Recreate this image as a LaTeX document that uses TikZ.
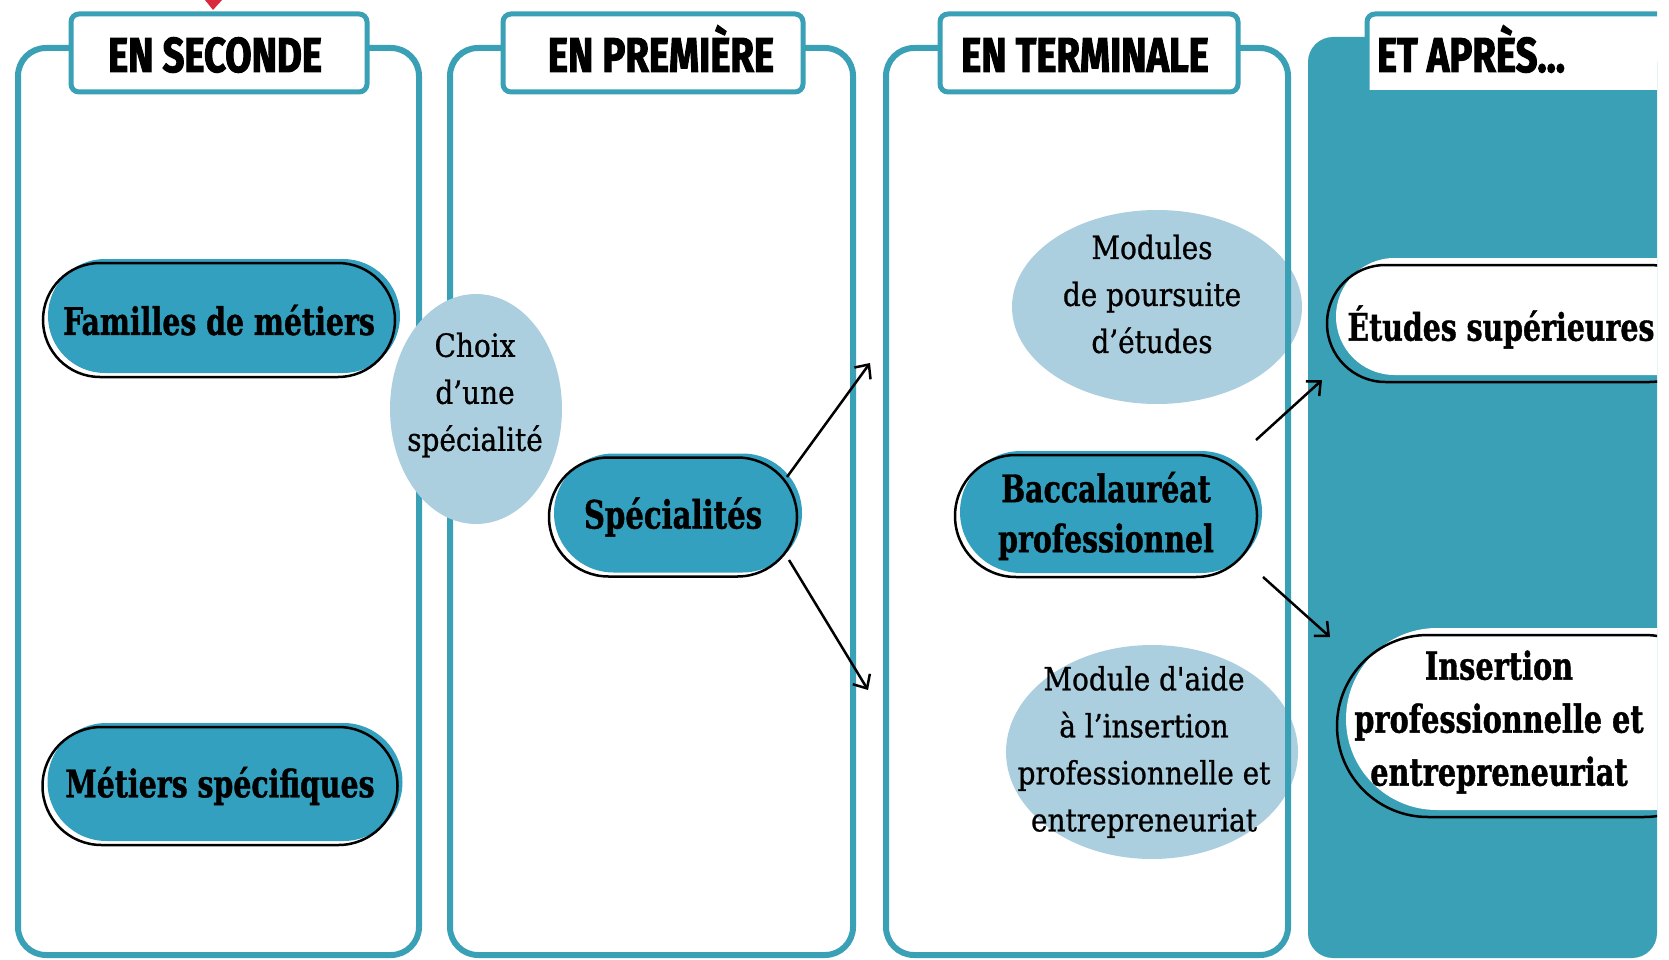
\documentclass[tikz,border=0pt]{standalone}
\usepackage{fontspec}
\usetikzlibrary{shapes.misc,shapes.geometric,arrows.meta,calc}
\newfontfamily\hdrfont[FakeStretch=0.78, BoldFeatures={FakeBold=2}]{Fira Sans}
\newfontfamily\slabB[FakeStretch=0.83, BoldFeatures={FakeBold=1}]{DejaVu Serif Condensed}
\newfontfamily\slabR[FakeStretch=0.97, FakeBold=0.8]{DejaVu Serif Condensed}
\definecolor{panelteal}{RGB}{58,160,182}
\definecolor{pillteal}{RGB}{50,160,190}
\definecolor{lightblue}{RGB}{172,207,224}
\definecolor{redmark}{RGB}{220,40,60}
\tikzset{
  every node/.style={outer sep=0pt},
  panel/.style={draw=panelteal, line width=6pt, rounded corners=28pt},
  hdrbox/.style={rectangle, draw=panelteal, fill=white, line width=5pt, rounded corners=8pt, minimum height=78pt, inner sep=0pt},
  hdrtxt/.style={font=\hdrfont\bfseries\fontsize{49}{49}\selectfont, anchor=base, inner sep=0pt},
  tealpill/.style={rounded rectangle, inner sep=0pt, fill=white,
    postaction={fill=pillteal, transform canvas={shift={(5pt,4pt)}}},
    postaction={draw=black, line width=2.5pt}},
  whitepill/.style={rounded rectangle, inner sep=0pt,
    postaction={fill=white, transform canvas={shift={(9pt,7pt)}}},
    postaction={draw=black, line width=2.5pt}},
  bubble/.style={ellipse, fill=lightblue, draw=none, inner sep=0pt},
  pilltxt/.style={font=\slabB\bfseries\fontsize{38}{50}\selectfont, align=center, inner sep=0pt},
  bubtxt/.style={font=\slabR\fontsize{32}{47}\selectfont, align=center, inner sep=0pt},
  arr/.style={line width=2.5pt, -{Straight Barb[length=11pt,width=20pt,line width=2.5pt]}},
}
\begin{document}
\begin{tikzpicture}[x=1pt,y=-1pt]
\useasboundingbox (0,0) rectangle (1669,960);
% panel 4 background
\fill[panelteal, rounded corners=25pt] (1308,37) rectangle (1657,958);
% bubbles behind borders
\node[bubble, minimum width=290pt, minimum height=194pt] (modp) at (1157,307) {};
\node[bubble, minimum width=292pt, minimum height=214pt] (moda) at (1152,752) {};
% panels
\draw[panel] (18,48) rectangle (419,955);
\draw[panel] (450,48) rectangle (853,955);
\draw[panel] (886,48) rectangle (1288,955);
% headers
\node[hdrbox, minimum width=296pt] (h1) at (219,53) {};
\node[hdrbox, minimum width=300pt] (h2) at (653,53) {};
\node[hdrbox, minimum width=298pt] (h3) at (1089,53) {};
\fill[white] (1367,14) rectangle (1657,90);
\draw[panelteal, line width=5pt, rounded corners=8pt] (1367,90) -- (1367,14) -- (1657,14);
\node[hdrtxt] (t1) at (215,72) {EN SECONDE};
\node[hdrtxt] (t2) at (661,72) {EN PREMIÈRE};
\node[hdrtxt] (t3) at (1085,72) {EN TERMINALE};
\node[hdrtxt, anchor=base west] (t4) at (1377,72) {ET APRÈS...};
\fill[redmark] (205,0) -- (222,0) -- (213,10) -- cycle;
% choix bubble over borders
\node[bubble, minimum width=172pt, minimum height=230pt] (choix) at (476,409) {};
\node[bubtxt] (choixt) at (475,395) {Choix\\d’une\\spécialité};
\node[bubtxt] (modpt) at (1152,294) {Modules\\de poursuite\\d’études};
\node[bubtxt] (modat) at (1144,752) {Module d\char"27 aide\\à l’insertion\\professionnelle et\\entrepreneuriat};
% teal pills
\node[tealpill, pilltxt, minimum width=352pt, minimum height=114pt] (fam) at (219,320) {Familles de métiers};
\node[tealpill, pilltxt, minimum width=355pt, minimum height=118pt] (met) at (220,786) {Métiers spécifiques};
\node[tealpill, pilltxt, font=\slabB\bfseries\fontsize{39}{50}\selectfont, minimum width=248pt, minimum height=119pt] (spec) at (673,517) {Spécialités};
\node[tealpill, pilltxt, font=\slabB\bfseries\fontsize{38}{50}\selectfont, minimum width=302pt, minimum height=122pt] (bac) at (1106,516) {Baccalauréat\\professionnel};
% white pills (clipped at panel edge)
\begin{scope}
\clip (0,0) rectangle (1657,960);
\node[whitepill, minimum width=381pt, minimum height=117pt] (etu) at (1517.5,323.5) {};
\node[whitepill, minimum width=398pt, minimum height=182pt] (ins) at (1536,726) {};
\end{scope}
\node[pilltxt] (etut) at (1501,327) {Études supérieures};
\node[pilltxt, font=\slabB\bfseries\fontsize{38.5}{53}\selectfont] (inst) at (1499,722) {Insertion\\professionnelle et\\entrepreneuriat};
% arrows
\coordinate (a1) at (870,363);
\coordinate (a2) at (868,690);
\coordinate (b1) at (1322,380);
\coordinate (b2) at (1330,637);
\draw[arr] ($(spec.east)+(-10,-40)$) -- (a1);
\draw[arr] ($(spec.east)+(-8,43)$) -- (a2);
\draw[arr] ($(bac.east)+(-1,-76)$) -- (b1);
\draw[arr] ($(bac.east)+(6,61)$) -- (b2);
\end{tikzpicture}
\end{document}
